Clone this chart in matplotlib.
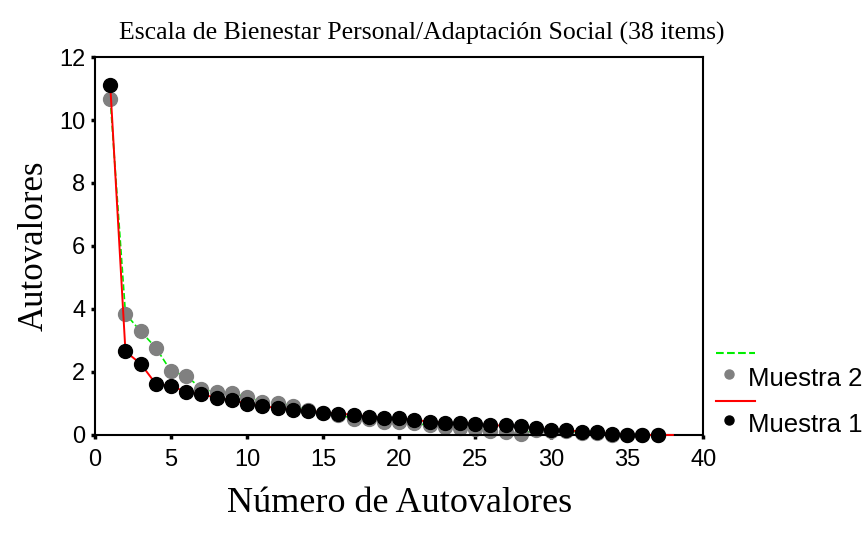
import matplotlib.pyplot as plt
from matplotlib.lines import Line2D

# autovalores
n_m1 = list(range(1, 39))
muestra1 = [11.10, 2.65, 2.26, 1.62, 1.56, 1.36, 1.30, 1.17, 1.11, 0.99,
            0.92, 0.85, 0.80, 0.77, 0.71, 0.68, 0.64, 0.58, 0.54, 0.53,
            0.48, 0.42, 0.39, 0.37, 0.35, 0.30, 0.30, 0.28, 0.21, 0.16,
            0.17, 0.09, 0.09, 0.03, 0.00, 0.00, 0.00, 0.00]

n_m2 = list(range(1, 38))
muestra2 = [10.66, 3.85, 3.29, 2.77, 2.02, 1.88, 1.46, 1.35, 1.33, 1.20,
            1.06, 1.01, 0.93, 0.78, 0.70, 0.64, 0.52, 0.49, 0.42, 0.40,
            0.37, 0.30, 0.25, 0.22, 0.19, 0.12, 0.08, 0.02, 0.17, 0.12,
            0.14, 0.07, 0.07, 0.01, 0.00, 0.00, 0.00]

xticks = [0, 5, 10, 15, 20, 25, 30, 35, 40]
yticks = [0, 2, 4, 6, 8, 10, 12]

serif = "Liberation Serif"
sans = "Liberation Sans"

fig = plt.figure(figsize=(8.64, 5.33), dpi=100)
ax = fig.add_axes([0.110, 0.184, 0.704, 0.709])

ax.plot(n_m2, muestra2, color="#00ee00", ls="--", lw=1.2, zorder=1, clip_on=False)
ax.plot(n_m2, muestra2, ls="none", marker="o", ms=10, color="#808080", zorder=2, clip_on=False)
ax.plot(n_m1, muestra1, color="red", lw=1.4, zorder=3, clip_on=False)
ax.plot(n_m1[:37], muestra1[:37], ls="none", marker="o", ms=10, color="black", zorder=4, clip_on=False)

ax.set_xlim(0, 40)
ax.set_ylim(0, 12)
ax.set_xticks(xticks)
ax.set_yticks(yticks)
for s in ax.spines.values():
    s.set_linewidth(1.5)
ax.tick_params(direction="out", length=3, width=2.5, labelsize=17, pad=4)
ax.tick_params(axis="x", pad=7)
for lab in ax.get_xticklabels() + ax.get_yticklabels():
    lab.set_fontfamily(sans)

ax.set_xlabel("Número de Autovalores", fontfamily=serif, fontsize=26, labelpad=12)
ax.set_ylabel("Autovalores", fontfamily=serif, fontsize=25, labelpad=6)
fig.text(0.488, 0.938, "Escala de Bienestar Personal/Adaptación Social (38 items)",
         fontfamily=serif, fontsize=18.5, ha="center", va="center")

# leyenda dibujada a mano (estilo SPSS)
fig.add_artist(Line2D([0.829, 0.874], [0.338, 0.338], color="#00ee00", ls="--", lw=1.5))
fig.add_artist(Line2D([0.844], [0.298], marker="o", ms=6.5, color="#808080", ls="none"))
fig.text(0.866, 0.289, "Muestra 2", fontfamily=sans, fontsize=18.5, ha="left", va="center")
fig.add_artist(Line2D([0.829, 0.874], [0.248, 0.248], color="red", lw=1.5))
fig.add_artist(Line2D([0.844], [0.212], marker="o", ms=6.5, color="black", ls="none"))
fig.text(0.866, 0.203, "Muestra 1", fontfamily=sans, fontsize=18.5, ha="left", va="center")

fig.savefig("out.png", dpi=100)
